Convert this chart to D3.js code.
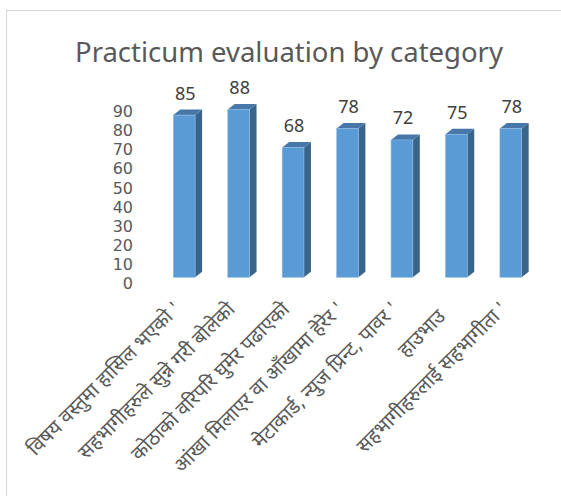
<!DOCTYPE html>
<html>
<head>
<meta charset="utf-8">
<script src="https://cdn.jsdelivr.net/npm/d3@7"></script>
<style>
  html, body { margin: 0; padding: 0; background: #fff; }
  svg { display: block; }
  .cat { white-space: pre; }
</style>
</head>
<body>
<div id="chart"></div>
<script>
// Practicum evaluation scores by category
const categories = [
  "विषय वस्तुमा हासिल भएको'",
  "सहभागीहरुले सुन्ने गरी बोलेको",
  "कोठाको वरिपरि घुमेर पढाएको",
  "आंखा मिलाएर वा आँखामा हेरेर'",
  "मेटाकार्ड, न्युज प्रिन्ट, पावर'",
  "हाउभाउ  ",
  "सहभागीहरुलाई सहभागीता'"
];
const scores = [85, 88, 68, 78, 72, 75, 78];
const yTicks = [0, 10, 20, 30, 40, 50, 60, 70, 80, 90];
const title = "Practicum evaluation by category";

const W = 561, H = 496;
const depthX = 7, depthY = 5.5;
const markGap = 6;
const font = "'Noto Sans', 'DejaVu Sans', sans-serif";

const svg = d3.select("#chart").append("svg")
  .attr("width", W).attr("height", H);

svg.append("rect").attr("width", W).attr("height", H).attr("fill", "#fff");

// chart area frame
svg.append("rect")
  .attr("x", 6.5).attr("y", 10.5)
  .attr("width", W + 20).attr("height", H + 20)
  .attr("fill", "none").attr("stroke", "#d9d9d9").attr("stroke-width", 1.2);

const x = d3.scaleBand().domain(categories).range([157, 538]).paddingInner(0.6).paddingOuter(0.3);
const y = d3.scaleLinear().domain([0, 100]).range([277.3, 86.5]);

// title, sized to a fixed width
const t = svg.append("text")
  .attr("x", 289).attr("y", 62)
  .attr("text-anchor", "middle")
  .attr("font-family", font)
  .attr("font-size", 26)
  .attr("fill", "#595959")
  .text(title);
const tw = t.node().getComputedTextLength();
t.attr("font-size", 26 * 428 / tw);

// value axis labels (sit on the back wall, so they are shifted down a little)
const yAxis = svg.append("g")
  .attr("transform", "translate(133,6)")
  .call(d3.axisLeft(y).tickValues(yTicks).tickSize(0).tickPadding(0));
yAxis.select(".domain").remove();
yAxis.selectAll("text")
  .attr("font-family", "'DejaVu Sans', sans-serif").attr("font-size", 16).attr("fill", "#595959");

// 3D columns
const bars = svg.append("g").selectAll("g").data(scores).join("g");
const bx = (d, i) => x(categories[i]);
const bw = x.bandwidth();

bars.append("path") // side face
  .attr("fill", "#3a6489")
  .attr("d", (d, i) => {
    const x1 = bx(d, i) + bw, yt = y(d), yb = y(0);
    return `M${x1},${yb}L${x1},${yt}L${x1 + depthX},${yt - depthY}L${x1 + depthX},${yb - depthY}Z`;
  });
bars.append("path") // top face
  .attr("fill", "#4677a8")
  .attr("d", (d, i) => {
    const x0 = bx(d, i), x1 = x0 + bw, yt = y(d);
    return `M${x0},${yt}L${x1},${yt}L${x1 + depthX},${yt - depthY}L${x0 + depthX},${yt - depthY}Z`;
  });
bars.append("rect") // front face
  .attr("x", (d, i) => bx(d, i))
  .attr("y", d => y(d))
  .attr("width", bw)
  .attr("height", d => y(0) - y(d))
  .attr("fill", "#5b9bd5")
  .attr("stroke", "#8fbbe6").attr("stroke-width", 0.6);

// value labels
svg.append("g").selectAll("text").data(scores).join("text")
  .attr("x", (d, i) => bx(d, i) + bw / 2 + 1)
  .attr("y", d => y(d) - 15.6)
  .attr("text-anchor", "middle")
  .attr("font-family", font).attr("font-size", 18).attr("fill", "#404040")
  .text(d => d);

// category labels, rotated 45 degrees; a trailing quote mark is set slightly apart
const cat = svg.append("g").selectAll("text").data(categories).join("text")
  .attr("class", "cat")
  .attr("xml:space", "preserve")
  .attr("transform", d => `translate(${x(d) + bw / 2 - 2.5},310.5) rotate(-45)`)
  .attr("text-anchor", "end")
  .attr("font-family", font).attr("font-size", 15).attr("fill", "#595959");
cat.each(function (d) {
  const el = d3.select(this);
  if (d.endsWith("'")) {
    el.append("tspan").text(d.slice(0, -1));
    el.append("tspan").attr("dx", markGap).text("'");
  } else {
    el.text(d);
  }
});
const firstLen = cat.node().getComputedTextLength() - markGap;
cat.attr("font-size", Math.min(20, 15 * 214 / firstLen));
</script>
</body>
</html>
